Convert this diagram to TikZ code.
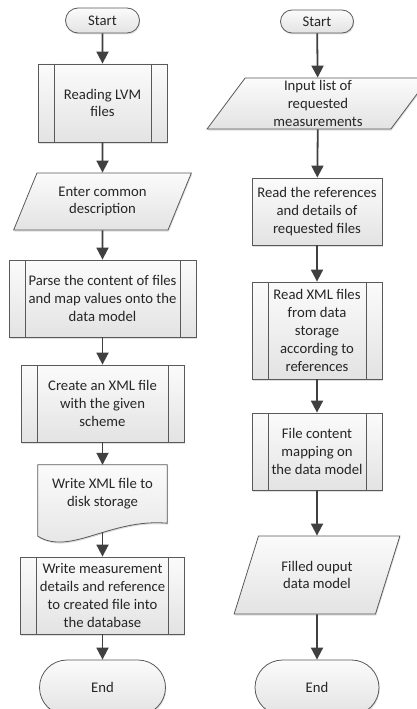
\documentclass[tikz,border=0pt]{standalone}
\usepackage{fontspec}
\setmainfont{Carlito}
\usetikzlibrary{arrows.meta,calc,shapes.geometric,shapes.misc,shadows,backgrounds}

\definecolor{boxline}{HTML}{595959}
\definecolor{arrowgray}{HTML}{404040}
\definecolor{boxtop}{HTML}{FBFBFB}
\definecolor{boxbottom}{HTML}{E3E3E3}

\tikzset{
  base/.style={draw=boxline, line width=0.8pt, top color=boxtop, bottom color=boxbottom,
    align=center, text=black!85, font=\fontsize{14.7}{17.8}\selectfont, inner sep=2pt,
    drop shadow={shadow xshift=0.8pt, shadow yshift=-1.5pt, opacity=0.25}},
  terminal/.style={base, rounded rectangle},
  process/.style={base, rectangle},
  predef/.style={base, rectangle, path picture={
    \draw[boxline, line width=0.8pt]
      ([xshift=16pt]path picture bounding box.north west) -- ([xshift=16pt]path picture bounding box.south west)
      ([xshift=-16pt]path picture bounding box.north east) -- ([xshift=-16pt]path picture bounding box.south east);}},
  io/.style={base, trapezium, trapezium left angle=64, trapezium right angle=116, trapezium stretches=true},
  flow/.style={-{Triangle[width=12pt,length=12pt]}, line width=1.8pt, draw=arrowgray},
}

\begin{document}
\begin{tikzpicture}[x=1pt,y=-1pt]
\useasboundingbox (0,0) rectangle (417,709);
\clip (0,0) rectangle (417,709);

% storing chart
\node[terminal, minimum width=78pt, minimum height=25pt] (startL) at (102.5,20.5) {Start};
\node[predef, minimum width=129pt, minimum height=78pt] (readLVM) at (102.5,103) {Reading LVM\\files};
\node[io, minimum width=178pt, minimum height=57pt] (enterDesc) at (102.5,201.5) {Enter common\\description};
\node[predef, minimum width=187pt, minimum height=77pt] (parse) at (102.5,298.5) {Parse the content of files\\and map values onto the\\data model};
\node[predef, minimum width=163pt, minimum height=77pt] (createXML) at (102.5,403.5) {Create an XML file\\with the given\\scheme};
\node[align=center, text=black!85, font=\fontsize{14.7}{17.8}\selectfont, minimum width=129pt, minimum height=58pt, inner sep=2pt] (writeXML) at (102.5,494) {Write XML file to\\disk storage};
\node[predef, minimum width=164pt, minimum height=77pt] (writeDB) at (102.5,595.5) {Write measurement\\details and reference\\to created file into\\the database};
\node[terminal, minimum width=130pt, minimum height=55pt] (endL) at (102.5,687.5) {End};

\begin{scope}[on background layer]
\draw[boxline, line width=0.8pt, top color=boxtop, bottom color=boxbottom,
      drop shadow={shadow xshift=0.8pt, shadow yshift=-1.5pt, opacity=0.25}]
  (writeXML.north west) -- (writeXML.north east) -- (writeXML.south east)
  .. controls ($(writeXML.south east)+(-57,-5)$) and ($(writeXML.south west)+(32,33)$) .. ($(writeXML.south west)+(0,13)$)
  -- cycle;
\end{scope}
\coordinate (writeXMLbot) at (102.5,532);

\draw[flow] (startL) -- (readLVM);
\draw[flow] (readLVM) -- (enterDesc);
\draw[flow] (enterDesc) -- (parse);
\draw[flow] (parse) -- (createXML);
\draw[flow] (createXML) -- (writeXML);
\draw[flow] (writeXMLbot) -- (writeDB);
\draw[flow] (writeDB) -- (endL);

% reading chart
\node[terminal, minimum width=77pt, minimum height=23pt] (startR) at (317,21.5) {Start};
\node[io, minimum width=222pt, minimum height=51pt] (inputList) at (318,103.5) {Input list of\\requested\\measurements};
\node[process, minimum width=130pt, minimum height=67pt] (readRefs) at (317,211.5) {Read the references\\and details of\\requested files};
\node[predef, minimum width=130pt, minimum height=97pt] (readXML) at (317,330.5) {Read XML files\\from data\\storage\\according to\\references};
\node[predef, minimum width=130pt, minimum height=77pt] (mapping) at (317,451.5) {File content\\mapping on\\the data model};
\node[io, minimum width=166pt, minimum height=78pt] (filled) at (317,575) {Filled ouput\\data model};
\node[terminal, minimum width=128pt, minimum height=55pt] (endR) at (317,687.5) {End};

\draw[flow] (startR) -- (inputList);
\draw[flow] (inputList) -- (readRefs);
\draw[flow] (readRefs) -- (readXML);
\draw[flow] (readXML) -- (mapping);
\draw[flow] (mapping) -- (filled);
\draw[flow] (filled) -- (endR);
\end{tikzpicture}
\end{document}
